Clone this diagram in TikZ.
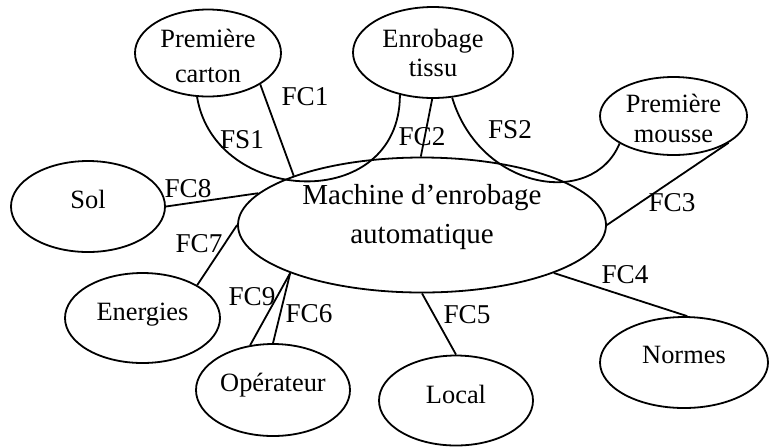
\documentclass[tikz,border=0pt]{standalone}
\usepackage{fontspec}
\setmainfont{Liberation Serif}
\usetikzlibrary{shapes.geometric}
\tikzset{
    blob/.style={
        draw, ellipse, line width=0.9pt, inner sep=0pt
    },
    blobtext/.style={
        font=\fontsize{13.2}{17.5}\selectfont, align=center
    },
    fclabel/.style={
        font=\fontsize{13.6}{16}\selectfont, inner sep=0pt
    },
    link/.style={line width=0.9pt},
}
\begin{document}
\begin{tikzpicture}[x=0.5pt, y=-0.5pt]
    \useasboundingbox (0,0) rectangle (769,446);
    \fill[white] (0,0) rectangle (769,446);
    % central system
    \node[blob, minimum width=184pt, minimum height=67.5pt,
        label={[blobtext, font=\fontsize{14.5}{19.5}\selectfont, yshift=4.1pt]center:{Machine d’enrobage\\automatique}}] (machine) at (422,225) {};
    % surroundings
    \node[blob, minimum width=73pt, minimum height=43.5pt,
        label={[blobtext, yshift=-1.6pt]center:{Première\\carton}}] (carton) at (208,53) {};
    \node[blob, minimum width=80pt, minimum height=45.5pt,
        label={[blobtext, font=\fontsize{13.2}{14.5}\selectfont]center:{Enrobage\\tissu}}] (tissu) at (433,52.5) {};
    \node[blob, minimum width=73.5pt, minimum height=39pt,
        label={[blobtext, font=\fontsize{13.2}{15}\selectfont, yshift=-1pt]center:{Première\\mousse}}] (mousse) at (673.5,116) {};
    \node[blob, minimum width=77pt, minimum height=45.5pt,
        label={[blobtext, yshift=3.3pt]center:Sol}] (sol) at (88,206.5) {};
    \node[blob, minimum width=77.5pt, minimum height=45pt,
        label={[blobtext, yshift=1.75pt]center:Energies}] (energies) at (142.5,318) {};
    \node[blob, minimum width=77pt, minimum height=46pt,
        label={[blobtext, yshift=2.35pt]center:Opérateur}] (operateur) at (273,390) {};
    \node[blob, minimum width=77pt, minimum height=45pt,
        label={[blobtext, yshift=3.25pt]center:Local}] (local) at (456,400.5) {};
    \node[blob, minimum width=84pt, minimum height=45.5pt,
        label={[blobtext, yshift=3.75pt]center:Normes}] (normes) at (684,362.5) {};
    % functions
    \draw[link] (carton.-31) -- (machine.159);
    \draw[link] (carton.-104) .. controls +(18,109) and +(0,119) .. (tissu.-128);
    \draw[link] (tissu.-91) -- (machine.91);
    \draw[link] (tissu.-67) .. controls +(28,93) and +(-27,65) .. (mousse.-153);
    \draw[link] (mousse.-26) -- (machine.east);
    \draw[link] (machine.-20) -- (normes.86);
    \draw[link] (machine.south) -- (local.north);
    \draw[link] (machine.-160) -- (operateur.north);
    \draw[link] (machine.-160) -- (operateur.117);
    \draw[link] (machine.west) -- (energies.31);
    \draw[link] (sol.east) -- (machine.169);
    % labels
    \node[fclabel] (fc1) at (305,97) {FC1};
    \node[fclabel] (fs1) at (242,140) {FS1};
    \node[fclabel] (fc2) at (422,137) {FC2};
    \node[fclabel] (fs2) at (510,130) {FS2};
    \node[fclabel] (fc3) at (672,203) {FC3};
    \node[fclabel] (fc4) at (625,275) {FC4};
    \node[fclabel] (fc5) at (467,315) {FC5};
    \node[fclabel] (fc6) at (309,314) {FC6};
    \node[fclabel] (fc9) at (252,297) {FC9};
    \node[fclabel] (fc7) at (199,244) {FC7};
    \node[fclabel] (fc8) at (188,189) {FC8};
\end{tikzpicture}
\end{document}
